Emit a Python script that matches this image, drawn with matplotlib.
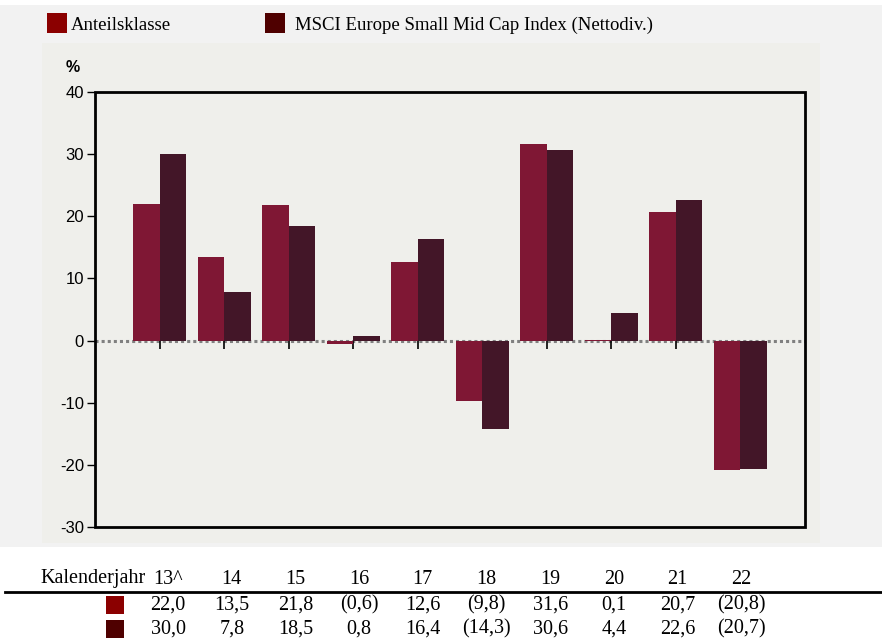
import matplotlib.pyplot as plt
from matplotlib.patches import Rectangle
import numpy as np

years = ["13^", "14", "15", "16", "17", "18", "19", "20", "21", "22"]
fund = [22.0, 13.5, 21.8, -0.6, 12.6, -9.8, 31.6, 0.1, 20.7, -20.8]
index = [30.0, 7.8, 18.5, 0.8, 16.4, -14.3, 30.6, 4.4, 22.6, -20.7]
series_names = ["Anteilsklasse", "MSCI Europe Small Mid Cap Index (Nettodiv.)"]
yticks = [-30, -20, -10, 0, 10, 20, 30, 40]

bar_colors = ["#7f1734", "#431628"]
key_colors = ["#8b0000", "#4f0000"]
W, H = 882, 642
serif = "Liberation Serif"
sans = "Liberation Sans"


def fx(px):
    return px / W


def fy(py):
    return 1 - py / H


def fmt(v):
    s = f"{abs(v):.1f}".replace(".", ",")
    return f"({s})" if v < 0 else s


def main():
    plt.rcParams["axes.unicode_minus"] = False
    fig = plt.figure(figsize=(W / 100, H / 100), dpi=100)
    fig.patch.set_facecolor("white")

    # Hintergrundflächen
    fig.patches.append(Rectangle((0, fy(547)), 1, fy(5) - fy(547), transform=fig.transFigure,
                                 facecolor="#f2f2f2", edgecolor="none", zorder=-2))
    fig.patches.append(Rectangle((fx(42), fy(543)), fx(820) - fx(42), fy(43) - fy(543),
                                 transform=fig.transFigure, facecolor="#efefeb",
                                 edgecolor="none", zorder=-1))

    ax = fig.add_axes([fx(95), fy(527), fx(805) - fx(95), fy(92) - fy(527)])
    ax.set_zorder(1)
    ax.set_facecolor("#efefeb")

    x = np.arange(len(years))
    w = 0.41
    ax.axhline(0, color="#808080", ls=(0, (1, 1)), lw=2.2, zorder=1)
    ax.bar(x - w / 2, fund, w, color=bar_colors[0], zorder=2)
    ax.bar(x + w / 2, index, w, color=bar_colors[1], zorder=2)

    ax.set_xlim(-1, 10)
    ax.set_ylim(-30, 40)
    ax.set_yticks(yticks)
    ax.tick_params(axis="y", direction="out", length=6, width=1, labelsize=12, pad=2)
    for lab in ax.get_yticklabels():
        lab.set_fontfamily(sans)

    # x-Achse auf Nulllinie
    ax.spines["bottom"].set_position(("data", 0))
    ax.spines["bottom"].set_color("none")
    ax.set_xticks(x)
    ax.set_xticklabels([])
    ax.tick_params(axis="x", direction="out", length=6, width=1.2, color="black")
    for s in ["top", "right", "left"]:
        ax.spines[s].set_visible(False)
    ax.add_patch(Rectangle((0, 0), 1, 1, transform=ax.transAxes, fill=False,
                           edgecolor="black", lw=2, zorder=5, clip_on=False))

    fig.text(fx(66), fy(68), "%", fontfamily=sans, fontweight="bold", fontsize=11.5,
             va="center", ha="left")

    # Legende
    for i, (name, c) in enumerate(zip(series_names, key_colors)):
        x0 = [47, 265][i]
        fig.patches.append(Rectangle((fx(x0), fy(33)), fx(20), fy(0) - fy(20),
                                     transform=fig.transFigure, facecolor=c, edgecolor="none"))
        fig.text(fx(x0 + [24, 30][i]), fy(25), name, fontfamily=serif, fontsize=13.5,
                 va="center", ha="left")

    # Tabelle
    col_x = [168 + 63.7 * i for i in range(len(years))]
    fs = 14.5
    fig.text(fx(146), fy(579), "Kalenderjahr", fontfamily=serif, fontsize=fs,
             va="center", ha="right")
    for cx, yr in zip(col_x, years):
        fig.text(fx(cx), fy(579), yr, fontfamily=serif, fontsize=fs, va="center", ha="center")
    fig.add_artist(plt.Line2D([fx(5), 1], [fy(592), fy(592)], color="black", lw=2,
                              transform=fig.transFigure))
    for row, (vals, c) in enumerate(zip([fund, index], key_colors)):
        ry = [605, 629][row]
        fig.patches.append(Rectangle((fx(106), fy(ry + 9)), fx(18), fy(0) - fy(18),
                                     transform=fig.transFigure, facecolor=c, edgecolor="none"))
        for cx, v in zip(col_x, vals):
            fig.text(fx(cx), fy(ry), fmt(v), fontfamily=serif, fontsize=fs,
                     va="center", ha="center")

    fig.savefig("out.png", dpi=100)


if __name__ == "__main__":
    main()
